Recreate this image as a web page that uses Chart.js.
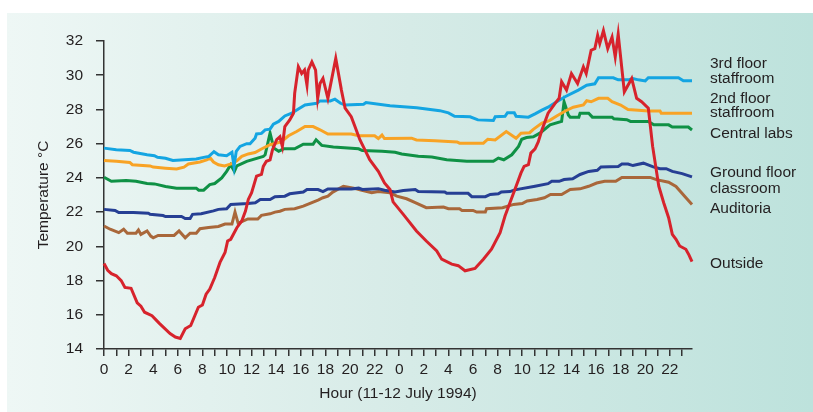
<!DOCTYPE html>
<html>
<head>
<meta charset="utf-8">
<script src="https://cdn.jsdelivr.net/npm/chart.js@4"></script>
<style>
  body { margin: 0; background: #fff; }
</style>
</head>
<body>
<canvas id="chartTemp" width="813" height="412"></canvas>
<script>
// hours since midnight 11 July 1994, temperatures in °C
const outsideHours = [0, 0.3, 0.6, 1.0, 1.4, 1.7, 2.2, 2.7, 3.0, 3.3, 3.9, 4.5, 5.37, 5.8, 6.2, 6.6, 7.05, 7.67, 8.0, 8.3, 8.6, 9.0, 9.43, 9.84, 10.05, 10.3, 10.8, 11.2, 11.5, 11.73, 12.0, 12.4, 12.8, 12.95, 13.2, 13.5, 13.7, 14.04, 14.3, 14.5, 14.7, 15.1, 15.4, 15.5, 15.8, 16.07, 16.3, 16.5, 16.6, 16.9, 17.2, 17.37, 17.56, 17.8, 18.2, 18.84, 19.3, 19.6, 20.1, 20.4, 20.8, 21.2, 21.6, 22.3, 22.8, 23.25, 23.5, 24.33, 25.4, 26.2, 27.05, 27.45, 28.27, 28.8, 29.35, 30.16, 30.84, 31.5, 32.2, 32.6, 33.0, 33.5, 33.9, 34.15, 34.5, 34.7, 35.04, 35.3, 35.6, 36.1, 36.67, 37.0, 37.2, 37.6, 38.0, 38.5, 38.97, 39.2, 39.6, 39.9, 40.13, 40.3, 40.6, 40.95, 41.3, 41.56, 41.8, 42.3, 42.9, 43.3, 43.7, 44.25, 44.6, 45.1, 45.5, 45.9, 46.2, 46.5, 46.8, 47.3, 47.55, 47.8];
const outsideTemps = [19.0, 18.6, 18.4, 18.28, 18.0, 17.6, 17.55, 16.7, 16.5, 16.15, 15.95, 15.5, 14.9, 14.7, 14.62, 15.18, 15.37, 16.44, 16.57, 17.2, 17.5, 18.18, 19.06, 19.64, 20.31, 20.41, 21.09, 21.48, 22.06, 22.74, 23.13, 24.1, 24.2, 24.67, 24.97, 25.05, 25.65, 26.23, 26.4, 25.84, 27.0, 27.39, 27.78, 28.94, 30.49, 30.1, 30.3, 29.42, 30.3, 30.78, 30.3, 28.65, 29.52, 29.81, 28.65, 30.98, 29.13, 28.07, 27.58, 27.0, 26.23, 25.65, 25.06, 24.38, 23.71, 23.32, 22.6, 21.87, 20.9, 20.31, 19.73, 19.25, 18.96, 18.87, 18.57, 18.71, 19.25, 19.83, 20.8, 21.77, 22.55, 23.51, 24.29, 24.67, 24.77, 25.45, 25.7, 26.1, 26.8, 27.78, 28.36, 28.65, 29.62, 29.13, 30.1, 29.52, 30.49, 30.1, 31.46, 31.55, 32.33, 31.85, 32.6, 31.55, 32.23, 31.07, 32.39, 29.03, 29.81, 28.65, 28.45, 28.07, 25.84, 23.51, 22.55, 21.67, 20.7, 20.41, 20.02, 19.83, 19.5, 19.1];

const thirdFloorHours = [0, 1.0, 2.1, 2.4, 3.5, 4.1, 4.35, 5.0, 5.6, 7.5, 8.1, 8.5, 8.94, 9.3, 9.97, 10.4, 10.57, 10.75, 11.06, 11.6, 11.87, 12.28, 12.4, 12.8, 13.1, 13.5, 13.77, 14.2, 14.7, 15.26, 15.8, 16.34, 17.3, 17.56, 18.4, 18.77, 19.23, 19.6, 21.1, 21.3, 23.25, 25.42, 27.3, 28.0, 28.5, 29.76, 30.4, 31.65, 31.8, 32.6, 32.8, 33.35, 33.5, 34.5, 35.04, 35.6, 36.1, 36.67, 37.48, 38.56, 39.24, 39.9, 40.2, 41.4, 41.8, 42.6, 43.0, 43.44, 44.0, 44.25, 46.7, 47.1, 47.8];
const thirdFloorTemps = [25.74, 25.65, 25.6, 25.5, 25.35, 25.3, 25.2, 25.15, 25.02, 25.1, 25.2, 25.25, 25.53, 25.35, 25.3, 25.5, 24.67, 25.55, 25.84, 26.0, 26.0, 26.32, 26.57, 26.6, 26.81, 26.85, 27.14, 27.3, 27.62, 27.78, 28.03, 28.26, 28.36, 28.5, 28.5, 28.6, 28.36, 28.26, 28.3, 28.4, 28.22, 28.1, 27.93, 27.8, 27.6, 27.57, 27.39, 27.35, 27.57, 27.6, 27.81, 27.81, 27.6, 27.55, 27.74, 27.96, 28.13, 28.39, 28.74, 29.13, 29.42, 29.5, 29.85, 29.85, 29.73, 29.73, 29.8, 29.73, 29.67, 29.85, 29.85, 29.67, 29.67];

const secondFloorHours = [0, 1.0, 2.1, 2.3, 3.74, 4.0, 5.0, 5.9, 6.5, 6.86, 7.8, 8.35, 8.65, 8.9, 9.3, 9.8, 10.4, 10.8, 11.2, 11.73, 12.28, 12.8, 13.5, 14.4, 15.0, 15.66, 16.34, 17.0, 17.56, 18.2, 20.1, 20.7, 22.0, 22.3, 22.6, 22.8, 25.0, 25.4, 26.9, 28.7, 28.9, 30.84, 31.2, 31.8, 32.7, 33.5, 33.9, 34.6, 34.9, 35.6, 36.2, 36.8, 37.5, 38.15, 38.97, 39.24, 39.6, 40.2, 40.95, 41.3, 42.0, 42.6, 43.44, 44.25, 45.2, 45.3, 47.8];
const secondFloorTemps = [25.02, 24.97, 24.9, 24.77, 24.7, 24.63, 24.57, 24.52, 24.63, 24.81, 24.93, 25.05, 25.15, 24.93, 24.77, 24.7, 24.83, 25.0, 25.26, 25.4, 25.48, 25.69, 25.94, 26.1, 26.46, 26.71, 27.0, 27.0, 26.81, 26.56, 26.56, 26.46, 26.46, 26.3, 26.5, 26.3, 26.32, 26.22, 26.17, 26.1, 26.03, 26.03, 26.26, 26.22, 26.71, 26.32, 26.61, 26.64, 26.84, 27.2, 27.35, 27.62, 27.91, 28.13, 28.26, 28.51, 28.45, 28.65, 28.65, 28.45, 28.26, 28.0, 27.96, 27.91, 27.91, 27.78, 27.78];

const centralLabsHours = [0, 0.6, 1.8, 2.6, 3.5, 4.1, 5.0, 5.9, 7.5, 7.7, 8.1, 8.6, 9.0, 9.57, 9.97, 10.3, 10.6, 10.8, 11.6, 12.95, 13.1, 13.5, 13.8, 14.2, 14.6, 15.5, 16.2, 17.0, 17.24, 17.7, 18.64, 20.7, 21.0, 22.6, 23.66, 24.2, 25.55, 26.65, 27.86, 29.5, 31.65, 32.06, 32.5, 33.15, 33.7, 33.96, 34.35, 34.9, 35.4, 35.6, 36.26, 37.2, 37.4, 37.75, 37.9, 38.6, 38.7, 39.4, 39.7, 41.3, 41.45, 42.5, 42.8, 44.25, 44.7, 45.9, 46.2, 47.5, 47.8];
const centralLabsTemps = [24.04, 23.8, 23.85, 23.8, 23.67, 23.65, 23.5, 23.4, 23.4, 23.28, 23.28, 23.61, 23.67, 24.0, 24.38, 24.77, 24.38, 24.7, 24.97, 25.26, 25.35, 26.62, 25.74, 25.55, 25.7, 25.7, 25.97, 25.97, 26.23, 25.9, 25.8, 25.7, 25.6, 25.55, 25.5, 25.4, 25.26, 25.22, 25.06, 24.97, 24.97, 25.16, 25.06, 25.35, 25.84, 26.26, 26.36, 26.4, 26.6, 26.71, 27.1, 27.3, 28.45, 27.68, 27.55, 27.55, 27.78, 27.78, 27.55, 27.55, 27.45, 27.4, 27.3, 27.3, 27.1, 27.1, 26.97, 26.97, 26.8];

const groundFloorHours = [0, 0.9, 1.2, 2.4, 3.6, 3.74, 4.8, 5.0, 6.3, 6.6, 7.0, 7.2, 7.9, 8.9, 9.3, 9.97, 10.3, 11.7, 12.3, 12.7, 13.5, 13.9, 14.7, 15.1, 16.2, 16.5, 17.4, 17.8, 18.2, 20.1, 20.7, 21.0, 22.3, 22.8, 23.66, 24.33, 25.3, 25.55, 27.7, 27.86, 29.6, 29.9, 31.0, 31.4, 32.06, 32.3, 33.0, 33.4, 35.04, 36.1, 36.4, 37.0, 37.4, 38.1, 38.7, 39.4, 40.1, 40.4, 41.8, 42.1, 42.6, 43.0, 43.85, 44.65, 45.2, 45.7, 46.2, 47.0, 47.8];
const groundFloorTemps = [22.16, 22.1, 21.97, 21.97, 21.94, 21.87, 21.8, 21.74, 21.74, 21.62, 21.62, 21.87, 21.9, 22.07, 22.16, 22.2, 22.45, 22.5, 22.55, 22.74, 22.74, 22.9, 22.93, 23.07, 23.17, 23.32, 23.32, 23.2, 23.35, 23.35, 23.4, 23.32, 23.37, 23.28, 23.17, 23.26, 23.32, 23.2, 23.18, 23.1, 23.1, 22.9, 22.9, 23.03, 23.07, 23.18, 23.2, 23.3, 23.51, 23.66, 23.8, 23.8, 23.9, 23.95, 24.2, 24.38, 24.44, 24.64, 24.67, 24.81, 24.81, 24.72, 24.86, 24.64, 24.54, 24.54, 24.38, 24.25, 24.06];

const auditoriaHours = [0, 0.5, 1.2, 1.6, 1.9, 2.6, 2.8, 3.0, 3.5, 3.8, 4.0, 4.4, 5.7, 6.1, 6.6, 7.0, 7.5, 7.8, 8.5, 9.3, 9.84, 10.4, 10.65, 10.9, 11.2, 11.7, 12.5, 12.8, 13.5, 13.9, 14.3, 14.7, 15.5, 16.2, 16.7, 17.4, 17.8, 18.2, 18.6, 19.46, 20.3, 20.8, 21.76, 22.3, 23.25, 23.8, 24.6, 25.3, 26.2, 27.6, 28.0, 28.9, 29.1, 30.0, 30.3, 31.0, 31.1, 32.4, 33.3, 34.0, 34.4, 35.2, 35.8, 36.3, 37.2, 37.9, 38.7, 39.4, 40.05, 40.7, 41.6, 42.1, 44.4, 44.9, 45.9, 46.5, 47.2, 47.8];
const auditoriaTemps = [21.19, 21.0, 20.8, 21.0, 20.77, 20.77, 20.96, 20.7, 20.9, 20.6, 20.5, 20.64, 20.64, 20.9, 20.5, 20.77, 20.77, 21.03, 21.1, 21.16, 21.3, 21.3, 22.0, 21.36, 21.45, 21.6, 21.6, 21.81, 21.9, 22.0, 22.05, 22.16, 22.2, 22.35, 22.5, 22.7, 22.84, 22.93, 23.17, 23.51, 23.4, 23.3, 23.13, 23.2, 23.13, 22.93, 22.78, 22.55, 22.26, 22.3, 22.2, 22.2, 22.1, 22.1, 22.0, 22.0, 22.2, 22.26, 22.45, 22.5, 22.65, 22.74, 22.84, 23.03, 23.03, 23.32, 23.36, 23.51, 23.7, 23.8, 23.8, 24.03, 24.03, 23.9, 23.75, 23.5, 22.93, 22.45];

// right-hand labels: lines of text and the temperature they sit at
const labelLines = [
  ["3rd floor", 30.7], ["staffroom", 29.8],
  ["2nd floor", 28.65], ["staffroom", 27.78],
  ["Central labs", 26.58],
  ["Ground floor", 24.3], ["classroom", 23.38],
  ["Auditoria", 22.22],
  ["Outside", 19.0],
];

const pts = (hours, temps) => hours.map((h, i) => ({ x: h, y: temps[i] }));

const FONT = "'Liberation Sans', Arial, Helvetica, sans-serif";
const INK = "#231f20";

const backdrop = {
  id: "backdrop",
  beforeDraw(chart) {
    const c = chart.ctx;
    c.save();
    c.fillStyle = "#fff";
    c.fillRect(0, 0, chart.width, chart.height);
    const g = c.createLinearGradient(7, 0, chart.width, 0);
    g.addColorStop(0, "#eef7f5");
    g.addColorStop(0.5, "#d6ebe7");
    g.addColorStop(1, "#bde2dc");
    c.fillStyle = g;
    c.fillRect(7, 13, chart.width - 7, chart.height - 13);
    c.restore();
  },
};

const sideLabels = {
  id: "sideLabels",
  afterDraw(chart) {
    const c = chart.ctx;
    const y = chart.scales.y;
    c.save();
    c.font = "15.5px " + FONT;
    c.fillStyle = INK;
    c.textBaseline = "middle";
    labelLines.forEach(([text, v]) => {
      c.fillText(text, chart.chartArea.right + 18, y.getPixelForValue(v));
    });
    c.restore();
  },
};

const line = (label, data, color) => ({
  label,
  data,
  borderColor: color,
  borderWidth: 3,
  pointRadius: 0,
  tension: 0,
  clip: false,
});

new Chart(document.getElementById("chartTemp").getContext("2d"), {
  type: "line",
  data: {
    datasets: [
      line("Outside", pts(outsideHours, outsideTemps), "#d7232c"),
      line("3rd floor staffroom", pts(thirdFloorHours, thirdFloorTemps), "#14a5e2"),
      line("2nd floor staffroom", pts(secondFloorHours, secondFloorTemps), "#f8a325"),
      line("Central labs", pts(centralLabsHours, centralLabsTemps), "#0f9145"),
      line("Ground floor classroom", pts(groundFloorHours, groundFloorTemps), "#263f94"),
      line("Auditoria", pts(auditoriaHours, auditoriaTemps), "#a9673a"),
    ],
  },
  options: {
    responsive: false,
    animation: false,
    layout: { padding: { left: 33, right: 121, top: 41, bottom: 0 } },
    plugins: { legend: { display: false }, tooltip: { enabled: false } },
    scales: {
      x: {
        type: "linear",
        min: 0,
        max: 47.8,
        afterFit: (scale) => { scale.height = 63; },
        border: { color: "#333", width: 1.5 },
        grid: { drawOnChartArea: false, tickLength: 7, tickColor: "#333", lineWidth: 1.5 },
        ticks: {
          stepSize: 1,
          autoSkip: false,
          includeBounds: false,
          maxRotation: 0,
          padding: 4,
          color: INK,
          font: { family: FONT, size: 15.5 },
          callback: (v) => (v % 2 === 0 ? String(v % 24) : ""),
        },
        title: {
          display: true,
          text: "Hour (11-12 July 1994)",
          color: INK,
          font: { family: FONT, size: 15.5 },
          padding: { top: 0, bottom: 9 },
        },
      },
      y: {
        min: 14,
        max: 32,
        afterFit: (scale) => { scale.width = 71; },
        border: { color: "#333", width: 1.5 },
        grid: { drawOnChartArea: false, tickLength: 8, tickColor: "#333", lineWidth: 1.5 },
        ticks: {
          stepSize: 1,
          padding: 13,
          color: INK,
          font: { family: FONT, size: 15.5 },
          callback: (v) => (v % 2 === 0 ? v : ""),
        },
        title: {
          display: true,
          text: "Temperature °C",
          color: INK,
          font: { family: FONT, size: 15.5 },
          padding: { top: 1, bottom: 0 },
        },
      },
    },
  },
  plugins: [backdrop, sideLabels],
});
</script>
</body>
</html>
